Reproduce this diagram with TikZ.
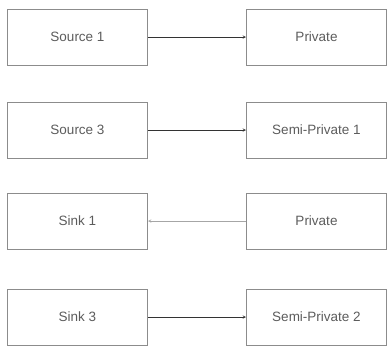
\documentclass[tikz,border=0pt]{standalone}
\usepackage{fontspec}
\setmainfont{Liberation Sans}
\usepackage{xcolor}
\definecolor{boxgray}{HTML}{8C8C8C}
\definecolor{textgray}{HTML}{5C5C5C}

\begin{document}
\begin{tikzpicture}[x=1pt, y=-1pt, >=stealth, line width=0.5pt,
	block/.style={draw=boxgray, line width=1pt, minimum width=140pt, minimum height=56pt, inner sep=0pt, text=textgray, font=\fontsize{13.5}{16}\selectfont}]
			\useasboundingbox (0,0) rectangle (388,346);

			% Left column
			\node[block] (src1) at (77.5,37) {Source 1};
			\node[block] (src3) at (77.5,130) {Source 3};
			\node[block] (sink1) at (77.5,221) {Sink 1};
			\node[block] (sink3) at (77.5,317) {Sink 3};

			% Right column
			\node[block] (priv1) at (316.5,37) {Private};
			\node[block] (semi1) at (316.5,130) {Semi-Private 1};
			\node[block] (priv2) at (316.5,221) {Private};
			\node[block] (semi2) at (316.5,317) {Semi-Private 2};

			% Links
			\draw[->, black!80] (src1) -- (priv1);
			\draw[->, black!80] (src3) -- (semi1);
			\draw[->, gray!70] (priv2) -- (sink1);
			\draw[->, black!80] (sink3) -- (semi2);

		\end{tikzpicture}
\end{document}
